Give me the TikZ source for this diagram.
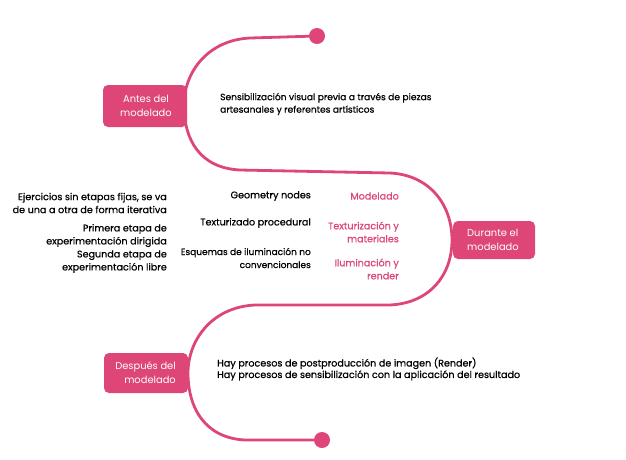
\documentclass[tikz,border=0pt]{standalone}
\usepackage{fontspec}
\setmainfont{Poppins}
\newfontfamily\medf{Poppins}[UprightFeatures={FakeBold=0.7}]
\definecolor{pk}{RGB}{221,70,118}
\newcommand\bodyf{\medf\fontsize{9.6}{13}\selectfont}
\newcommand\topf{\medf\fontsize{9.1}{12.5}\selectfont}
\newcommand\boxf{\fontsize{9.9}{14}\selectfont}
\begin{document}
\begin{tikzpicture}[x=1pt,y=-1pt,
  stagebox/.style={text=white,font=\boxf,inner sep=0pt},
  bodytxt/.style={font=\bodyf,inner sep=0pt,text=black},
  pinktxt/.style={font=\bodyf,inner sep=0pt,text=pk},
  enddot/.style={circle,fill=pk,minimum size=16pt,inner sep=0pt},
  road/.style={draw=pk,line width=2.8pt,line cap=round}]
\useasboundingbox (0,0) rectangle (626,459);
% stage boxes
\fill[pk,rounded corners=5pt] (103,85) rectangle (187,127);
\fill[pk,rounded corners=5pt] (453,221) rectangle (535,259);
\fill[pk,rounded corners=5pt] (104,353) rectangle (188,393);
\node[stagebox,align=center] (b1) at (146,106) {Antes del\\modelado};
\node[stagebox,align=left] (b2) at (493,240) {Durante el\\modelado};
\node[stagebox,align=right,anchor=east] (b3) at (176,373) {Después del\\modelado};
% end dots
\node[enddot] (d1) at (317,36) {};
\node[enddot] (d2) at (322,440) {};
\coordinate (p1) at (250,38);
\coordinate (p2) at (184,105);
\coordinate (p3) at (240,170);
\coordinate (p4) at (390,173);
\coordinate (p5) at (452,240);
\coordinate (p6) at (390,305);
\coordinate (p7) at (255,305);
\coordinate (p8) at (188,373);
\coordinate (p9) at (245,440);
\draw[road] (d1.center) -- (p1) .. controls (208,40) and (184,72) .. (p2)
  .. controls (184,140) and (200,168) .. (p3) -- (p4)
  .. controls (430,175) and (452,205) .. (p5)
  .. controls (452,275) and (430,303) .. (p6) -- (p7)
  .. controls (212,307) and (188,340) .. (p8)
  .. controls (188,408) and (205,438) .. (p9) -- (d2.center);
% texts
\node[bodytxt,font=\topf,anchor=west,align=left] (t1) at (220,104) {Sensibilización visual previa a través de piezas\\artesanales y referentes artísticos};
\node[bodytxt,anchor=east,align=right] (l1) at (167,203) {Ejercicios sin etapas fijas, se va\\de una a otra de forma iterativa};
\node[bodytxt,anchor=east,align=right] (l2) at (167,248.5) {Primera etapa de \\experimentación dirigida\\Segunda etapa de\\experimentación libre};
\node[bodytxt,anchor=east] (m1) at (311,196) {Geometry nodes};
\node[bodytxt,anchor=east] (m2) at (311,223) {Texturizado procedural};
\node[bodytxt,anchor=east,align=right,font=\medf\fontsize{9}{13}\selectfont] (m3) at (311,258) {Esquemas de iluminación no\\convencionales};
\node[pinktxt,anchor=east] (r1) at (399,196) {Modelado};
\node[pinktxt,anchor=east,align=right] (r2) at (399,232) {Texturización y\\materiales};
\node[pinktxt,anchor=east,align=right] (r3) at (399,269) {Iluminación y\\render};
\node[bodytxt,anchor=west,align=left,font=\medf\fontsize{9.6}{11.5}\selectfont] (t3) at (217,369) {Hay procesos de postproducción de imagen (Render)\\Hay procesos de sensibilización con la aplicación del resultado};
\end{tikzpicture}
\end{document}
